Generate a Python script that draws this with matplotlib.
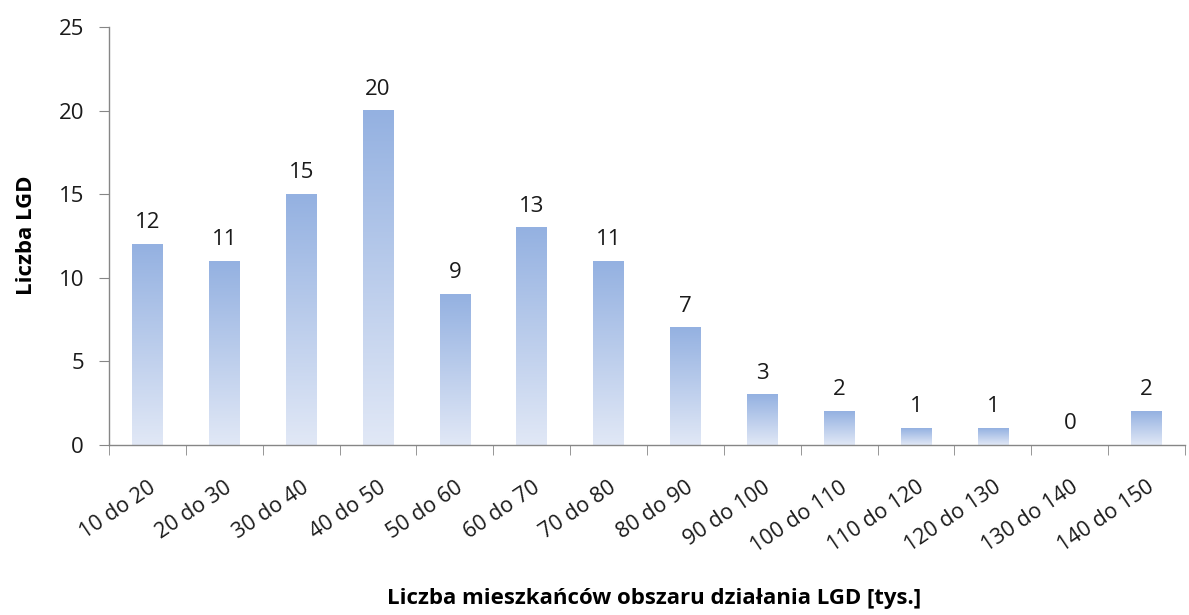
import numpy as np
import matplotlib
matplotlib.use("Agg")
import matplotlib.pyplot as plt
from matplotlib.colors import LinearSegmentedColormap
from matplotlib.ticker import FixedLocator

categories = ["10 do 20", "20 do 30", "30 do 40", "40 do 50", "50 do 60", "60 do 70",
              "70 do 80", "80 do 90", "90 do 100", "100 do 110", "110 do 120",
              "120 do 130", "130 do 140", "140 do 150"]
values = [12, 11, 15, 20, 9, 13, 11, 7, 3, 2, 1, 1, 0, 2]

plt.rcParams['font.family'] = ['Open Sans', 'DejaVu Sans']

fig = plt.figure(figsize=(11.89, 6.15), dpi=100)
ax = fig.add_axes([0.0917, 0.2764, 0.905, 0.6796])

x = np.arange(len(categories))
bars = ax.bar(x, values, width=0.4, color='none', edgecolor='none', zorder=2)

cmap = LinearSegmentedColormap.from_list('g', ['#e1e8f6', '#94b1e1'])
grad = np.linspace(0, 1, 256).reshape(-1, 1)
for b in bars:
    h = b.get_height()
    if h <= 0:
        continue
    x0 = b.get_x()
    w = b.get_width()
    ax.imshow(grad, cmap=cmap, origin='lower', aspect='auto',
              extent=(x0, x0 + w, 0, h), zorder=2, interpolation='bilinear')

for xi, v in zip(x, values):
    ax.annotate(str(v), (xi, v), xytext=(0, 8), textcoords='offset points',
                ha='center', va='bottom', fontsize=16, color='#1a1a1a')

ax.set_xlim(-0.5, len(categories) - 0.5)
ax.set_ylim(0, 25)
ax.set_yticks([0, 5, 10, 15, 20, 25])
ax.set_xticks(x)
ax.set_xticklabels(categories, rotation=34, ha='right', rotation_mode='anchor',
                   fontsize=15.5, color='#1a1a1a')
ax.xaxis.set_minor_locator(FixedLocator(np.arange(-0.5, len(categories) - 0.4, 1)))
ax.tick_params(axis='x', which='major', length=0, pad=23)
ax.tick_params(axis='x', which='minor', length=7, color='#868686', direction='out')
ax.tick_params(axis='y', length=7, color='#868686', direction='out', labelsize=16,
               labelcolor='#1a1a1a', pad=11)

for s in ['top', 'right']:
    ax.spines[s].set_visible(False)
for s in ['left', 'bottom']:
    ax.spines[s].set_color('#868686')
    ax.spines[s].set_linewidth(1)

ax.set_ylabel('Liczba LGD', fontsize=16, fontweight='bold')
ax.yaxis.set_label_coords(-0.067, 0.501)
ax.set_xlabel('Liczba mieszkańców obszaru działania LGD [tys.]', fontsize=16,
              fontweight='bold')
ax.xaxis.set_label_coords(0.5065, -0.342)

fig.savefig('out.png', dpi=100)
